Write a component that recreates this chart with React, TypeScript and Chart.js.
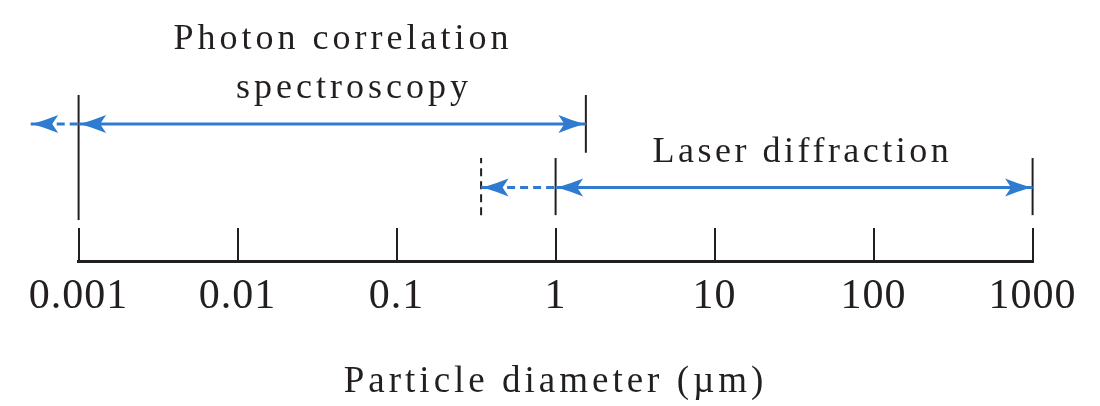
import React, { useEffect, useRef } from 'react';
import { Chart, registerables } from 'chart.js';

Chart.register(...registerables);

// ---- data (particle diameter in µm) ----
const tickValues = [0.001, 0.01, 0.1, 1, 10, 100, 1000];
const tickLabels = ['0.001', '0.01', '0.1', '1', '10', '100', '1000'];
const axisTitle = 'Particle diameter (µm)';

// Photon correlation spectroscopy
const pcsRange = [0.001, 1.55];
const pcsExtension = [0.0005, 0.001];
const pcsLevel = 4.15;
const pcsLowerMarker = [1.24, 5.03];
const pcsUpperMarker = [3.28, 5.03];
const pcsLabel = ['Photon correlation', 'spectroscopy'];
const pcsLabelX = [0.046, 0.054];
const pcsLabelY = [6.42, 4.94];

// Laser diffraction
const ldRange = [1, 1000];
const ldExtension = [0.34, 1];
const ldLevel = 2.23;
const ldMarker = [1.39, 3.12];
const ldLabel = 'Laser diffraction';
const ldLabelX = 35.7;
const ldLabelY = 3.0;

// ---- styles ----
const BLUE = '#2e7bcf';
const INK = '#231f20';
const FONT = '"Liberation Serif", "Times New Roman", serif';

type Pt = { x: number; y: number };

const seg = (label: string, data: Pt[], color: string, width: number, dash: number[] = []) => ({
  label,
  data,
  borderColor: color,
  backgroundColor: color,
  borderWidth: width,
  borderDash: dash,
  borderCapStyle: 'butt' as const,
  pointRadius: 0,
  pointHoverRadius: 0,
  fill: false,
  tension: 0,
  clip: false as const,
});

const hLine = (range: number[], level: number): Pt[] => [
  { x: range[0], y: level },
  { x: range[1], y: level },
];
const vLine = (x: number, extent: number[]): Pt[] => [
  { x, y: extent[0] },
  { x, y: extent[1] },
];

const arrowHeads = [
  { x: pcsExtension[0], y: pcsLevel, dir: -1 },
  { x: pcsRange[0], y: pcsLevel, dir: -1 },
  { x: pcsRange[1], y: pcsLevel, dir: 1 },
  { x: ldExtension[0], y: ldLevel, dir: -1 },
  { x: ldRange[0], y: ldLevel, dir: -1 },
  { x: ldRange[1], y: ldLevel, dir: 1 },
];

const decorPlugin = {
  id: 'decor',
  beforeDraw(chart: any) {
    (chart.ctx as any).letterSpacing = '1px';
  },
  afterDatasetsDraw(chart: any) {
    const ctx = chart.ctx;
    const xs = chart.scales.x;
    const ys = chart.scales.y;
    ctx.save();
    ctx.fillStyle = BLUE;
    const L = 26;
    const W = 9;
    const N = 20;
    arrowHeads.forEach((a) => {
      const px = xs.getPixelForValue(a.x) - a.dir * 1.5;
      const py = ys.getPixelForValue(a.y);
      const d = a.dir;
      ctx.beginPath();
      ctx.moveTo(px, py);
      ctx.quadraticCurveTo(px - d * L * 0.5, py - W * 0.42, px - d * L, py - W);
      ctx.lineTo(px - d * N, py);
      ctx.lineTo(px - d * L, py + W);
      ctx.quadraticCurveTo(px - d * L * 0.5, py + W * 0.42, px, py);
      ctx.closePath();
      ctx.fill();
    });
    ctx.restore();
    (ctx as any).letterSpacing = '4px';
  },
  afterDraw(chart: any) {
    const ctx = chart.ctx;
    const xs = chart.scales.x;
    const ys = chart.scales.y;
    ctx.save();
    ctx.fillStyle = INK;
    ctx.textAlign = 'center';
    ctx.textBaseline = 'alphabetic';
    ctx.font = `36px ${FONT}`;
    (ctx as any).letterSpacing = '4px';
    pcsLabel.forEach((t, i) => {
      ctx.fillText(t, xs.getPixelForValue(pcsLabelX[i]), ys.getPixelForValue(pcsLabelY[i]));
    });
    (ctx as any).letterSpacing = '3.5px';
    ctx.fillText(ldLabel, xs.getPixelForValue(ldLabelX), ys.getPixelForValue(ldLabelY));
    ctx.restore();
    (ctx as any).letterSpacing = '0px';
  },
};

export default function App() {
  const ref = useRef<HTMLCanvasElement>(null);

  useEffect(() => {
    if (!ref.current) return;
    const chart = new Chart(ref.current, {
      type: 'line',
      data: {
        datasets: [
          seg('PCS range', hLine(pcsRange, pcsLevel), BLUE, 3),
          seg('PCS extension', hLine(pcsExtension, pcsLevel), BLUE, 3, [8, 5]),
          seg('LD range', hLine(ldRange, ldLevel), BLUE, 3),
          seg('LD extension', hLine(ldExtension, ldLevel), BLUE, 3, [8, 5]),
          seg('PCS lower limit', vLine(pcsRange[0], pcsLowerMarker), INK, 2),
          seg('PCS upper limit', vLine(pcsRange[1], pcsUpperMarker), INK, 2),
          seg('LD lower limit', vLine(ldRange[0], ldMarker), INK, 2),
          seg('LD upper limit', vLine(ldRange[1], ldMarker), INK, 2),
          seg('LD extended limit', vLine(ldExtension[0], ldMarker), INK, 2, [8, 5]),
        ] as any,
      },
      options: {
        animation: false,
        responsive: false,
        events: [],
        layout: { padding: { left: 78.6, right: 67.4, top: 228, bottom: 0 } },
        plugins: {
          legend: { display: false },
          tooltip: { enabled: false },
          title: { display: false },
        },
        scales: {
          x: {
            type: 'logarithmic',
            position: 'bottom',
            weight: 0,
            min: tickValues[0],
            max: tickValues[tickValues.length - 1],
            afterBuildTicks: (s: any) => {
              s.ticks = tickValues.map((v) => ({ value: v }));
            },
            ticks: {
              autoSkip: false,
              maxRotation: 0,
              minRotation: 0,
              padding: 11,
              color: INK,
              font: { family: FONT, size: 42 },
              callback: (_v: any, i: number) => tickLabels[i],
            },
            grid: {
              display: true,
              drawOnChartArea: true,
              drawTicks: false,
              color: INK,
              lineWidth: 2,
            },
            border: { display: true, color: INK, width: 3 },
            title: { display: false },
          },
          x2: {
            type: 'logarithmic',
            axis: 'x',
            position: 'bottom',
            weight: 1,
            display: true,
            min: tickValues[0],
            max: tickValues[tickValues.length - 1],
            ticks: { display: false, z: 1 },
            grid: { display: false, drawTicks: false, z: 1 },
            border: { display: false, z: 1 },
            title: {
              display: true,
              text: axisTitle,
              color: INK,
              font: { family: FONT, size: 37 },
              padding: { top: 26.9, bottom: 1.3 },
            },
          },
          y: { type: 'linear', min: 0, max: 1, display: false },
        },
      } as any,
      plugins: [decorPlugin],
    });
    return () => chart.destroy();
  }, []);

  return (
    <div style={{ position: 'absolute', left: 0, top: 0, width: 1100, height: 406, background: '#fff' }}>
      <canvas ref={ref} width={1100} height={406} style={{ display: 'block', width: 1100, height: 406 }} />
    </div>
  );
}
